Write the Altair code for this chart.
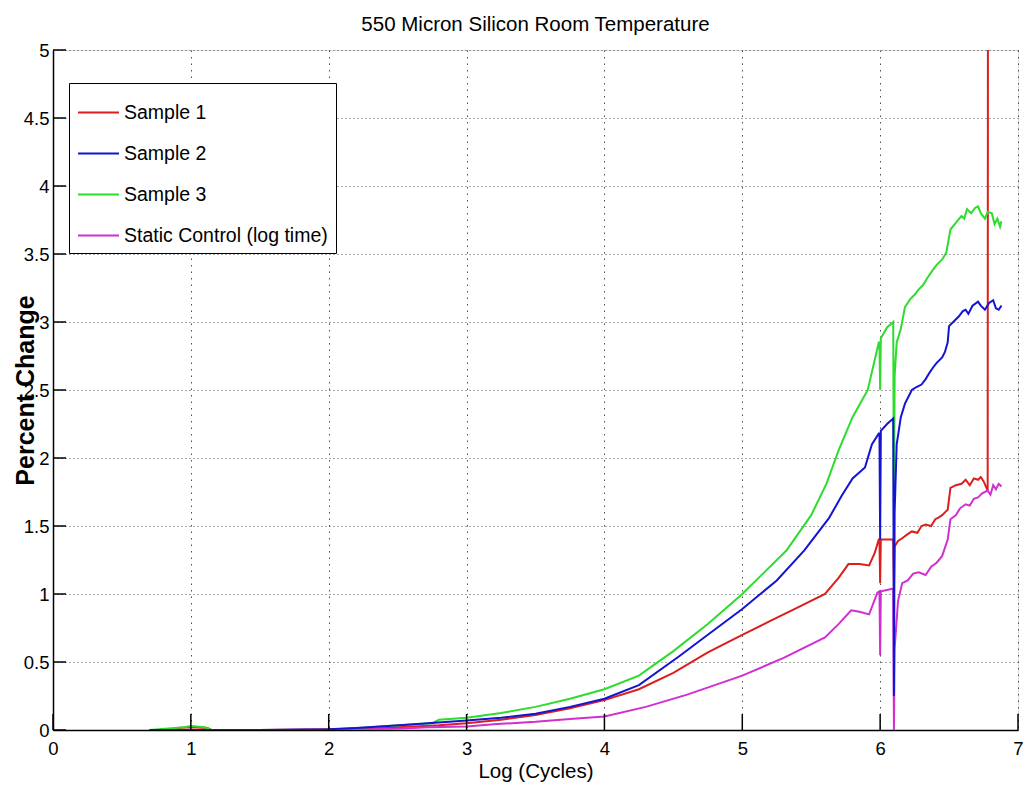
import altair as alt
import pandas as pd

# ---------------- data ----------------
series_names = ["Sample 1", "Sample 2", "Sample 3", "Static Control (log time)"]
series_colors = ["#dc1e1e", "#1414d2", "#2ddc2d", "#d030d0"]

s1_x = [0.7, 0.88, 0.9, 1.0, 1.12, 1.15, 1.5, 2.0, 2.5, 2.8, 3.0, 3.25, 3.5, 3.75, 4.0, 4.25,
        4.5, 4.75, 5.0, 5.2, 5.4, 5.6, 5.7, 5.77, 5.85, 5.92, 5.96, 5.99, 5.995, 6.0, 6.005,
        6.05, 6.095, 6.1, 6.105, 6.13, 6.16, 6.2, 6.23, 6.27, 6.3, 6.33, 6.37, 6.4, 6.42,
        6.45, 6.47, 6.49, 6.51, 6.55, 6.59, 6.62, 6.65, 6.68, 6.71, 6.73, 6.75, 6.78, 6.782]
s1_y = [0.0, 0.0, 0.015, 0.02, 0.015, 0.0, 0.0, 0.005, 0.02, 0.035, 0.05, 0.075, 0.11, 0.16, 0.22, 0.3,
        0.42, 0.57, 0.70, 0.80, 0.90, 1.0, 1.12, 1.22, 1.22, 1.21, 1.3, 1.40, 1.40, 1.08, 1.40,
        1.40, 1.40, 1.05, 1.35, 1.39, 1.41, 1.44, 1.46, 1.45, 1.50, 1.51, 1.50, 1.55, 1.56,
        1.58, 1.60, 1.62, 1.78, 1.80, 1.81, 1.84, 1.80, 1.85, 1.84, 1.86, 1.83, 1.76, 5.5]

s2_x = [0.7, 1.5, 2.0, 2.2, 2.43, 2.72, 3.0, 3.25, 3.5, 3.75, 4.0, 4.25, 4.54, 4.75, 5.0, 5.25,
        5.45, 5.63, 5.72, 5.80, 5.89, 5.94, 5.99, 5.995, 6.0, 6.005, 6.05, 6.095, 6.1, 6.105,
        6.12, 6.15, 6.18, 6.23, 6.26, 6.3, 6.33, 6.36, 6.38, 6.41, 6.45, 6.47, 6.49, 6.5,
        6.53, 6.57, 6.6, 6.62, 6.64, 6.67, 6.71, 6.73, 6.76, 6.79, 6.82, 6.84, 6.86, 6.88]
s2_y = [0.0, 0.0, 0.005, 0.015, 0.03, 0.05, 0.07, 0.09, 0.12, 0.17, 0.23, 0.33, 0.54, 0.70, 0.89, 1.1,
        1.32, 1.56, 1.72, 1.85, 1.93, 2.10, 2.18, 2.18, 1.4, 2.2, 2.25, 2.29, 0.25, 1.6,
        2.1, 2.3, 2.40, 2.5, 2.52, 2.54, 2.58, 2.63, 2.66, 2.70, 2.74, 2.78, 2.85, 2.97,
        3.0, 3.04, 3.08, 3.09, 3.06, 3.12, 3.15, 3.12, 3.09, 3.14, 3.16, 3.10, 3.09, 3.12]

s3_x = [0.7, 0.95, 1.0, 1.1, 1.15, 2.0, 2.43, 2.75, 2.8, 3.0, 3.25, 3.5, 3.75, 4.0, 4.25, 4.5,
        4.75, 5.0, 5.15, 5.32, 5.5, 5.61, 5.70, 5.80, 5.91, 5.99, 5.995, 6.0, 6.005, 6.05, 6.095,
        6.1, 6.105, 6.12, 6.15, 6.18, 6.22, 6.25, 6.28, 6.31, 6.34, 6.38, 6.41, 6.45, 6.48,
        6.51, 6.55, 6.59, 6.61, 6.63, 6.66, 6.69, 6.71, 6.73, 6.76, 6.78, 6.81, 6.83, 6.85,
        6.87, 6.88]
s3_y = [0.0, 0.02, 0.03, 0.02, 0.0, 0.0, 0.03, 0.05, 0.075, 0.09, 0.125, 0.17, 0.23, 0.3, 0.4, 0.58,
        0.78, 1.0, 1.15, 1.32, 1.58, 1.81, 2.06, 2.30, 2.50, 2.85, 2.85, 2.5, 2.88, 2.96, 3.0,
        1.5, 2.6, 2.85, 2.95, 3.11, 3.17, 3.2, 3.24, 3.27, 3.32, 3.38, 3.42, 3.46, 3.51,
        3.68, 3.73, 3.78, 3.76, 3.83, 3.80, 3.84, 3.85, 3.80, 3.76, 3.81, 3.80, 3.72, 3.76,
        3.70, 3.74]

s4_x = [0.7, 2.0, 2.5, 2.72, 3.0, 3.22, 3.5, 3.75, 4.0, 4.3, 4.6, 5.0, 5.3, 5.6, 5.7, 5.79,
        5.85, 5.92, 5.98, 5.995, 6.0, 6.005, 6.05, 6.095, 6.1, 6.105, 6.13, 6.16, 6.2, 6.24,
        6.28, 6.33, 6.37, 6.41, 6.45, 6.49, 6.51, 6.55, 6.58, 6.62, 6.65, 6.68, 6.71, 6.74,
        6.78, 6.8, 6.82, 6.84, 6.86, 6.88]
s4_y = [0.0, 0.0, 0.01, 0.02, 0.025, 0.044, 0.06, 0.08, 0.10, 0.17, 0.26, 0.40, 0.53, 0.68, 0.78, 0.88,
        0.87, 0.85, 1.01, 1.02, 0.55, 1.02, 1.03, 1.04, 0.0, 0.6, 0.95, 1.08, 1.1, 1.15,
        1.16, 1.14, 1.2, 1.23, 1.28, 1.40, 1.55, 1.58, 1.63, 1.66, 1.65, 1.70, 1.71, 1.74,
        1.76, 1.73, 1.80, 1.77, 1.81, 1.79]

x_ticks = [0, 1, 2, 3, 4, 5, 6, 7]
y_ticks = [0, 0.5, 1, 1.5, 2, 2.5, 3, 3.5, 4, 4.5, 5]

# draw order: Sample 1, Sample 3, Static Control, Sample 2
rows = []
for name, xs, ys in [(series_names[0], s1_x, s1_y), (series_names[2], s3_x, s3_y),
                     (series_names[3], s4_x, s4_y), (series_names[1], s2_x, s2_y)]:
    for i, (xv, yv) in enumerate(zip(xs, ys)):
        rows.append({"series": name, "x": xv, "y": yv, "idx": i})
df = pd.DataFrame(rows)

FONT = "Liberation Sans, Arial, Helvetica, sans-serif"

W, H = 965, 680
xscale = alt.Scale(domain=[0, 7], nice=False, zero=False)
yscale = alt.Scale(domain=[0, 5], nice=False)

lines = alt.Chart(df).mark_line(strokeWidth=2, clip=True).encode(
    x=alt.X("x:Q", scale=xscale,
            axis=alt.Axis(values=x_ticks, title="Log (Cycles)", format="~g",
                          titleFont=FONT, titleFontSize=20.5, titleFontWeight="normal",
                          titleColor="black", titleY=47, titleBaseline="alphabetic",
                          labelFont=FONT, labelFontSize=18.5, labelColor="black",
                          labelPadding=9, tickSize=0, labelBaseline="top",
                          domainColor="black", domainWidth=1.5,
                          grid=True, gridColor="#4d4d4d", gridDash=[1.5, 5], gridWidth=1,
                          labelFlush=False)),
    y=alt.Y("y:Q", scale=yscale,
            axis=alt.Axis(values=y_ticks, title="Percent Change", format="~g",
                          titleFont=FONT, titleFontSize=25, titleFontWeight="bold",
                          titleColor="black", titleX=-20, titleBaseline="alphabetic",
                          labelFont=FONT, labelFontSize=18.5, labelColor="black",
                          labelPadding=4, tickSize=0,
                          domainColor="black", domainWidth=1.5,
                          grid=True, gridColor="#4d4d4d", gridDash=[1, 3], gridWidth=1,
                          labelFlush=False)),
    color=alt.Color("series:N", title=None,
                    scale=alt.Scale(domain=series_names, range=series_colors),
                    legend=alt.Legend(orient="none", legendX=16, legendY=33,
                                      symbolType="stroke", symbolSize=1681,
                                      symbolStrokeWidth=2, labelFont=FONT,
                                      labelFontSize=19.5, labelColor="black",
                                      labelOffset=4, padding=8, rowPadding=10,
                                      strokeColor="black", fillColor="white",
                                      labelLimit=400)),
    order="idx:Q",
)

xt = pd.DataFrame({"v": x_ticks})
yt = pd.DataFrame({"v": y_ticks})

xtick_marks = alt.Chart(xt).mark_rule(color="black", strokeWidth=1.5).encode(
    x=alt.X("v:Q", scale=xscale), y=alt.value(H), y2=alt.value(H - 16))
ytick_marks = alt.Chart(yt).mark_rule(color="black", strokeWidth=1.5).encode(
    y=alt.Y("v:Q", scale=yscale), x=alt.value(0), x2=alt.value(13))

chart = alt.layer(lines, xtick_marks, ytick_marks).properties(
    width=W, height=H,
    title=alt.TitleParams("550 Micron Silicon Room Temperature", font=FONT,
                          fontSize=20.5, fontWeight="normal", color="black", offset=6),
    autosize=alt.AutoSizeParams(type="none"),
    padding={"left": 53, "top": 50, "right": 13, "bottom": 58},
).configure_view(stroke=None).configure(background="white")

chart.save("out.html", embed_options={"renderer": "svg", "actions": False})
